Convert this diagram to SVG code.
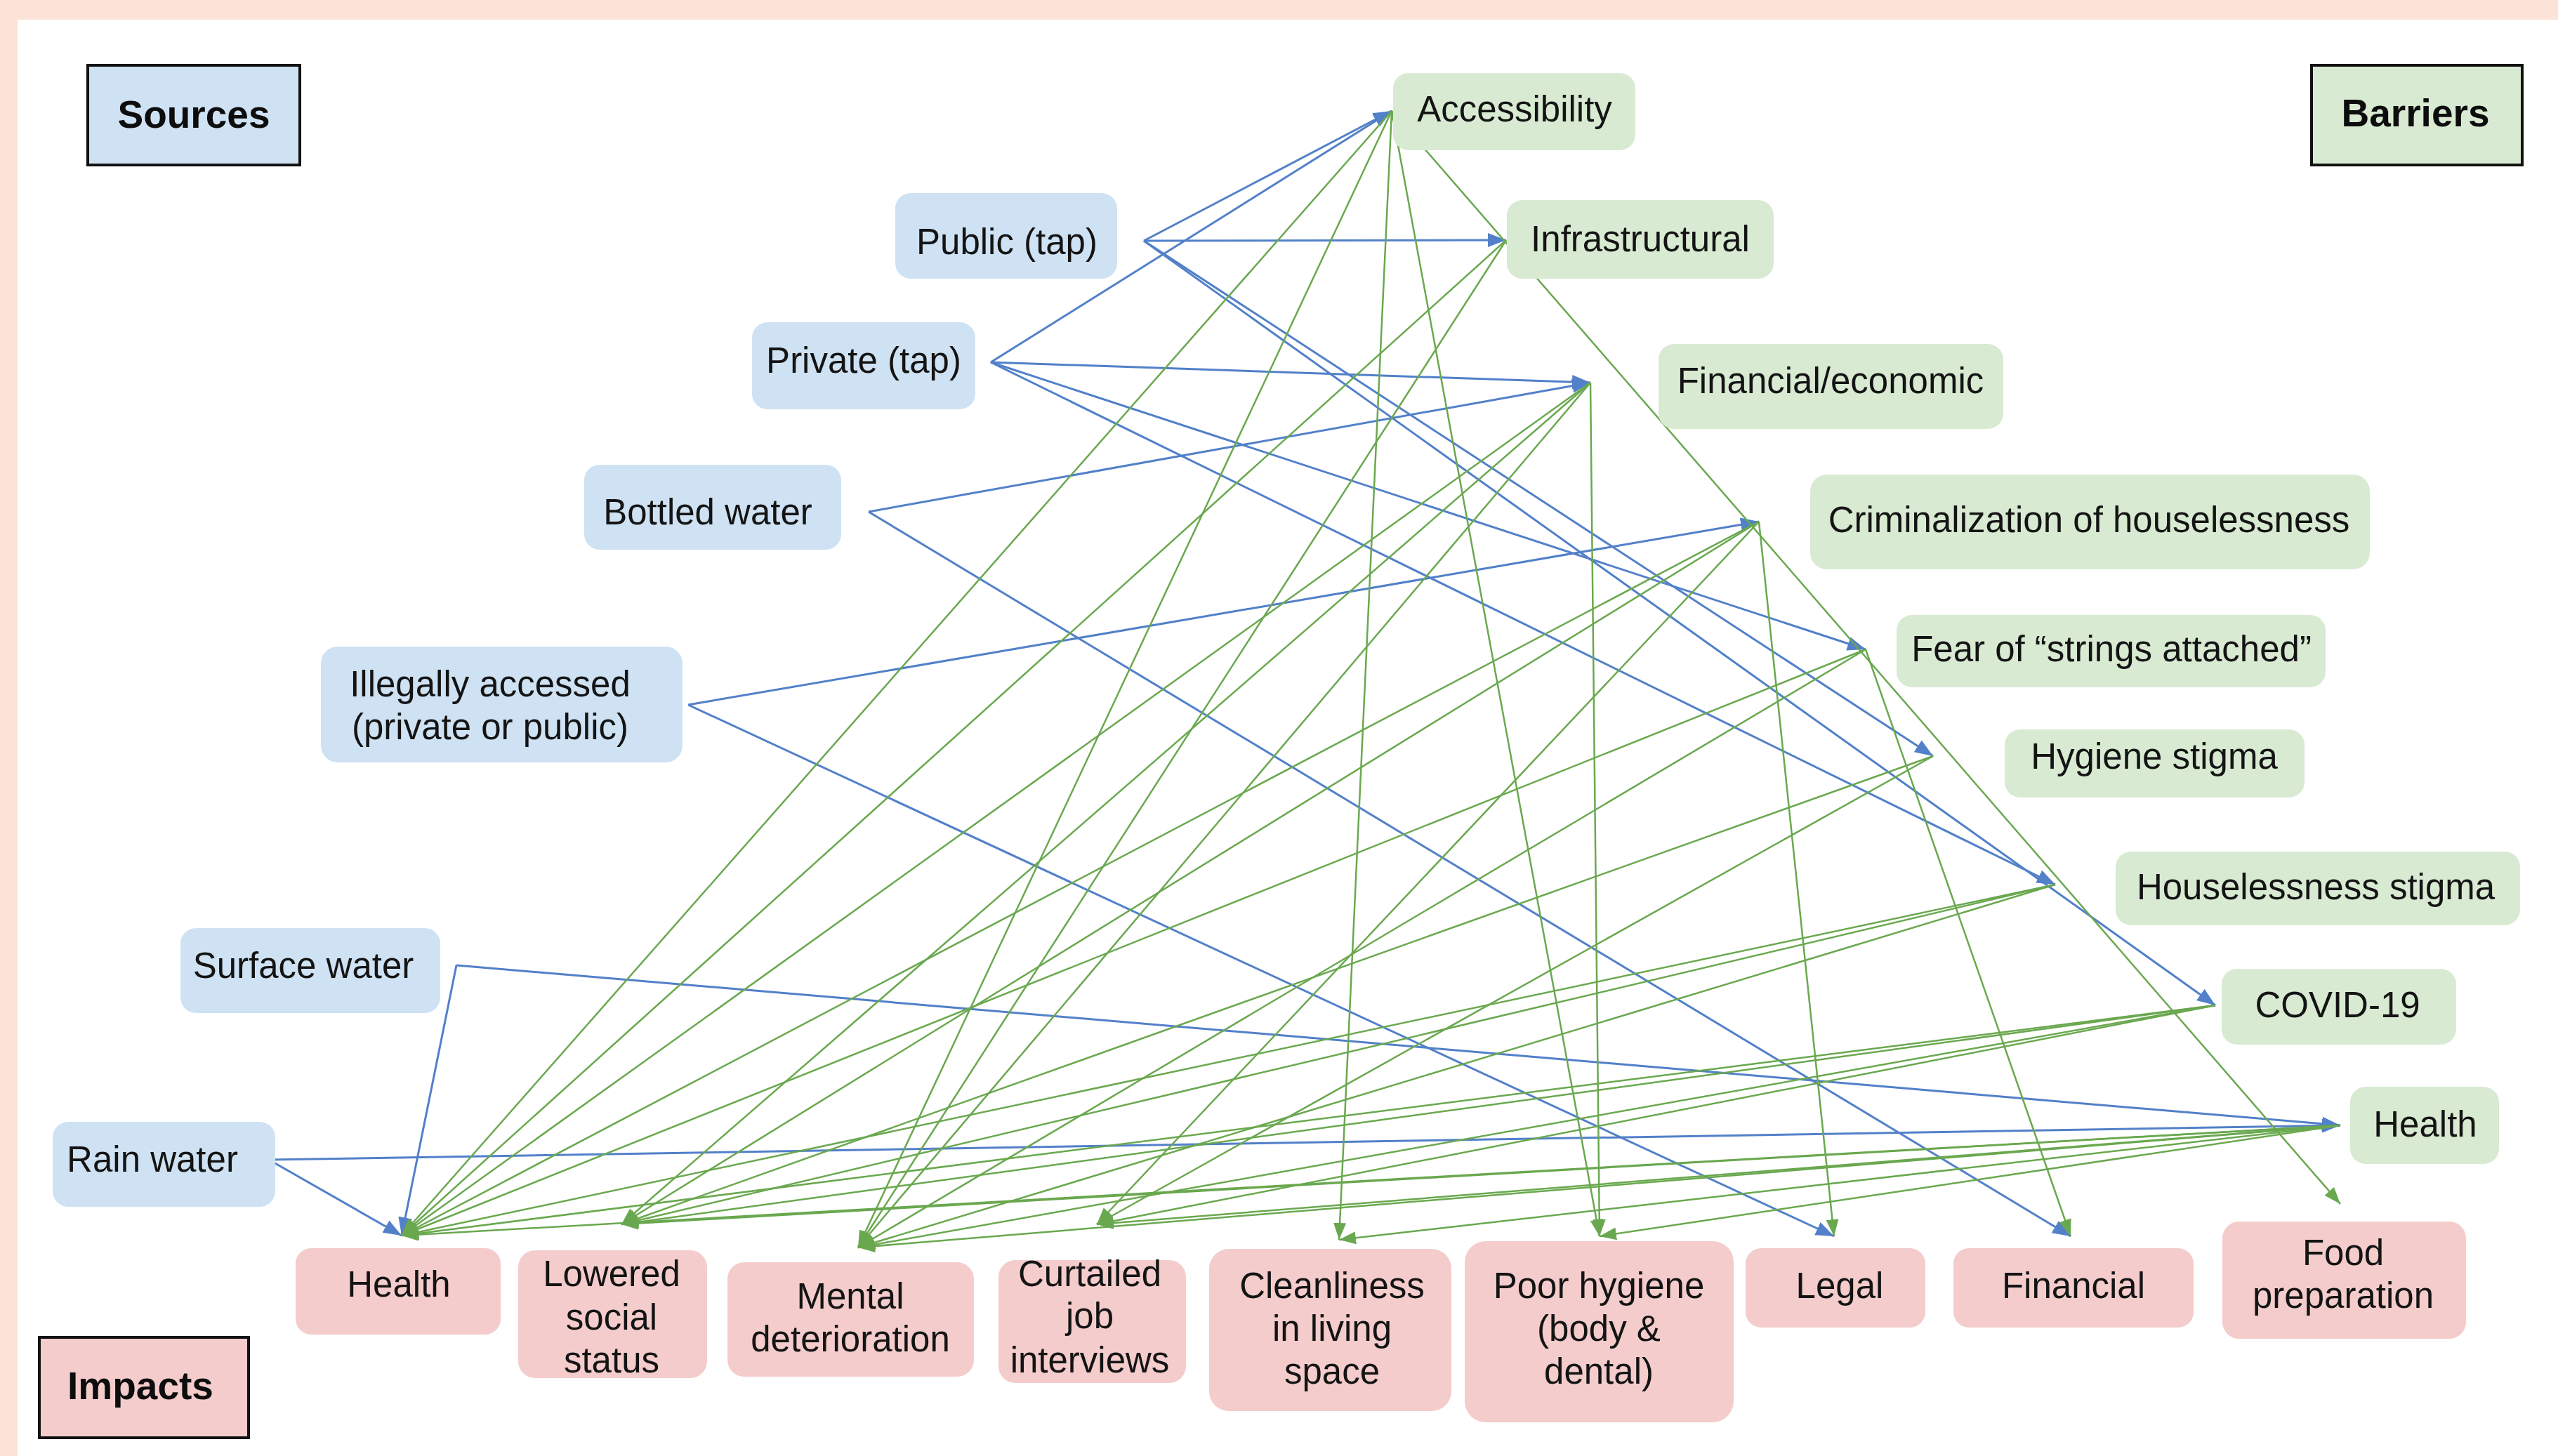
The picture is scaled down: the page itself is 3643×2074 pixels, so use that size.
<svg xmlns="http://www.w3.org/2000/svg" width="3643" height="2074" viewBox="0 0 3643 2074">
<style>
.t{font-family:"Liberation Sans",Arial,sans-serif;font-size:51px;fill:#141414;text-anchor:middle}
.h{font-family:"Liberation Sans",Arial,sans-serif;font-size:55px;font-weight:bold;fill:#0d0d0d;text-anchor:middle}
.src{fill:#cfe2f3}
.bar{fill:#d9ead3}
.imp{fill:#f4cccc}
.hd{stroke:#111;stroke-width:4}
.b{stroke:#5280c9;stroke-width:3;fill:none;marker-end:url(#ab)}
.g{stroke:#6aa84f;stroke-width:2.5;fill:none;marker-end:url(#ag)}
</style>
<defs>
<marker id="ab" markerUnits="userSpaceOnUse" markerWidth="28" markerHeight="22" refX="26" refY="10" orient="auto">
<path d="M0,0 L26,10 L0,20 z" fill="#5280c9"/>
</marker>
<marker id="ag" markerUnits="userSpaceOnUse" markerWidth="28" markerHeight="22" refX="24" refY="9" orient="auto">
<path d="M0,0 L24,9 L0,18 z" fill="#6aa84f"/>
</marker>
</defs>
<rect x="0" y="0" width="3643" height="2074" fill="#ffffff"/>
<rect x="0" y="0" width="3643" height="28" fill="#fbe4d7"/>
<rect x="0" y="0" width="25" height="2074" fill="#fbe4d7"/>

<g id="connectors">
<line class="b" x1="1629" y1="343" x2="1982" y2="158"/>
<line class="b" x1="1629" y1="343" x2="2145" y2="342"/>
<line class="b" x1="1629" y1="343" x2="2753" y2="1077"/>
<line class="b" x1="1629" y1="343" x2="3155" y2="1432"/>
<line class="b" x1="1411" y1="516" x2="1982" y2="158"/>
<line class="b" x1="1411" y1="516" x2="2265" y2="545"/>
<line class="b" x1="1411" y1="516" x2="2657" y2="925"/>
<line class="b" x1="1411" y1="516" x2="2927" y2="1260"/>
<line class="b" x1="1237" y1="729" x2="2265" y2="545"/>
<line class="b" x1="1237" y1="729" x2="2949" y2="1761"/>
<line class="b" x1="980" y1="1004" x2="2505" y2="743"/>
<line class="b" x1="980" y1="1004" x2="2612" y2="1761"/>
<line class="b" x1="650" y1="1375" x2="3333" y2="1603"/>
<line class="b" x1="650" y1="1375" x2="572" y2="1760"/>
<line class="b" x1="383" y1="1652" x2="3333" y2="1603"/>
<line class="b" x1="383" y1="1652" x2="572" y2="1760"/>

<line class="g" x1="1982" y1="158" x2="572" y2="1760"/>
<line class="g" x1="1982" y1="158" x2="1222" y2="1777"/>
<line class="g" x1="1982" y1="158" x2="1907" y2="1766"/>
<line class="g" x1="1982" y1="158" x2="2278" y2="1761"/>
<line class="g" x1="1982" y1="158" x2="3333" y2="1715"/>
<line class="g" x1="2145" y1="342" x2="572" y2="1760"/>
<line class="g" x1="2145" y1="342" x2="1222" y2="1777"/>
<line class="g" x1="2265" y1="545" x2="572" y2="1760"/>
<line class="g" x1="2265" y1="545" x2="885" y2="1744"/>
<line class="g" x1="2265" y1="545" x2="1222" y2="1777"/>
<line class="g" x1="2265" y1="545" x2="2278" y2="1761"/>
<line class="g" x1="2505" y1="743" x2="572" y2="1760"/>
<line class="g" x1="2505" y1="743" x2="885" y2="1744"/>
<line class="g" x1="2505" y1="743" x2="1562" y2="1744"/>
<line class="g" x1="2505" y1="743" x2="2612" y2="1761"/>
<line class="g" x1="2657" y1="925" x2="572" y2="1760"/>
<line class="g" x1="2657" y1="925" x2="1222" y2="1777"/>
<line class="g" x1="2657" y1="925" x2="2949" y2="1761"/>
<line class="g" x1="2753" y1="1077" x2="885" y2="1744"/>
<line class="g" x1="2753" y1="1077" x2="1562" y2="1744"/>
<line class="g" x1="2927" y1="1260" x2="572" y2="1760"/>
<line class="g" x1="2927" y1="1260" x2="885" y2="1744"/>
<line class="g" x1="2927" y1="1260" x2="1222" y2="1777"/>
<line class="g" x1="3155" y1="1432" x2="572" y2="1760"/>
<line class="g" x1="3155" y1="1432" x2="885" y2="1744"/>
<line class="g" x1="3155" y1="1432" x2="1222" y2="1777"/>
<line class="g" x1="3155" y1="1432" x2="1562" y2="1744"/>
<line class="g" x1="3333" y1="1603" x2="572" y2="1760"/>
<line class="g" x1="3333" y1="1603" x2="885" y2="1744"/>
<line class="g" x1="3333" y1="1603" x2="1222" y2="1777"/>
<line class="g" x1="3333" y1="1603" x2="1562" y2="1744"/>
<line class="g" x1="3333" y1="1603" x2="1907" y2="1766"/>
<line class="g" x1="3333" y1="1603" x2="2278" y2="1761"/>
</g>

<g id="sources-header"><rect class="src hd" x="125" y="93" width="302" height="142"/><text class="h" x="276" y="182">Sources</text></g>
<g id="barriers-header"><rect class="bar hd" x="3292" y="93" width="300" height="142"/><text class="h" x="3440" y="180">Barriers</text></g>
<g id="impacts-header"><rect class="imp hd" x="56" y="1905" width="298" height="143"/><text class="h" x="200" y="1993">Impacts</text></g>

<g id="src-public"><rect class="src" x="1275" y="275" width="316" height="122" rx="22"/><text class="t" x="1434" y="362">Public (tap)</text></g>
<g id="src-private"><rect class="src" x="1071" y="459" width="318" height="124" rx="22"/><text class="t" x="1230" y="531">Private (tap)</text></g>
<g id="src-bottled"><rect class="src" x="832" y="662" width="366" height="121" rx="22"/><text class="t" x="1008" y="747">Bottled water</text></g>
<g id="src-illegal"><rect class="src" x="457" y="921" width="515" height="165" rx="24"/><text class="t" x="698" y="992">Illegally accessed</text><text class="t" x="698" y="1053">(private or public)</text></g>
<g id="src-surface"><rect class="src" x="257" y="1322" width="370" height="121" rx="22"/><text class="t" x="432" y="1393">Surface water</text></g>
<g id="src-rain"><rect class="src" x="75" y="1598" width="317" height="121" rx="22"/><text class="t" x="217" y="1669">Rain water</text></g>

<g id="bar-access"><rect class="bar" x="1984" y="104" width="345" height="110" rx="22"/><text class="t" x="2157" y="173">Accessibility</text></g>
<g id="bar-infra"><rect class="bar" x="2146" y="285" width="380" height="112" rx="22"/><text class="t" x="2336" y="358">Infrastructural</text></g>
<g id="bar-fin"><rect class="bar" x="2362" y="490" width="491" height="121" rx="22"/><text class="t" x="2607" y="560">Financial/economic</text></g>
<g id="bar-crim"><rect class="bar" x="2578" y="676" width="797" height="135" rx="24"/><text class="t" x="2975" y="758">Criminalization of houselessness</text></g>
<g id="bar-fear"><rect class="bar" x="2701" y="876" width="611" height="103" rx="22"/><text class="t" x="3007" y="942">Fear of “strings attached”</text></g>
<g id="bar-hyg"><rect class="bar" x="2855" y="1039" width="427" height="97" rx="22"/><text class="t" x="3068" y="1095">Hygiene stigma</text></g>
<g id="bar-house"><rect class="bar" x="3013" y="1213" width="576" height="105" rx="22"/><text class="t" x="3298" y="1281">Houselessness stigma</text></g>
<g id="bar-covid"><rect class="bar" x="3164" y="1380" width="334" height="108" rx="22"/><text class="t" x="3329" y="1449">COVID-19</text></g>
<g id="bar-health"><rect class="bar" x="3347" y="1548" width="212" height="110" rx="22"/><text class="t" x="3454" y="1619">Health</text></g>

<g id="imp-health"><rect class="imp" x="421" y="1778" width="292" height="123" rx="22"/><text class="t" x="568" y="1847">Health</text></g>
<g id="imp-social"><rect class="imp" x="738" y="1781" width="269" height="182" rx="24"/><text class="t" x="871" y="1832">Lowered</text><text class="t" x="871" y="1894">social</text><text class="t" x="871" y="1955">status</text></g>
<g id="imp-mental"><rect class="imp" x="1036" y="1798" width="351" height="163" rx="24"/><text class="t" x="1211" y="1864">Mental</text><text class="t" x="1211" y="1925">deterioration</text></g>
<g id="imp-job"><rect class="imp" x="1422" y="1795" width="267" height="175" rx="24"/><text class="t" x="1552" y="1832">Curtailed</text><text class="t" x="1552" y="1892">job</text><text class="t" x="1552" y="1955">interviews</text></g>
<g id="imp-clean"><rect class="imp" x="1722" y="1779" width="345" height="231" rx="28"/><text class="t" x="1897" y="1849">Cleanliness</text><text class="t" x="1897" y="1910">in living</text><text class="t" x="1897" y="1971">space</text></g>
<g id="imp-hygiene"><rect class="imp" x="2086" y="1768" width="383" height="258" rx="30"/><text class="t" x="2277" y="1849">Poor hygiene</text><text class="t" x="2277" y="1910">(body &amp;</text><text class="t" x="2277" y="1971">dental)</text></g>
<g id="imp-legal"><rect class="imp" x="2486" y="1778" width="256" height="113" rx="22"/><text class="t" x="2620" y="1849">Legal</text></g>
<g id="imp-financial"><rect class="imp" x="2782" y="1778" width="342" height="113" rx="22"/><text class="t" x="2953" y="1849">Financial</text></g>
<g id="imp-food"><rect class="imp" x="3165" y="1740" width="347" height="167" rx="24"/><text class="t" x="3337" y="1802">Food</text><text class="t" x="3337" y="1863">preparation</text></g>
</svg>
